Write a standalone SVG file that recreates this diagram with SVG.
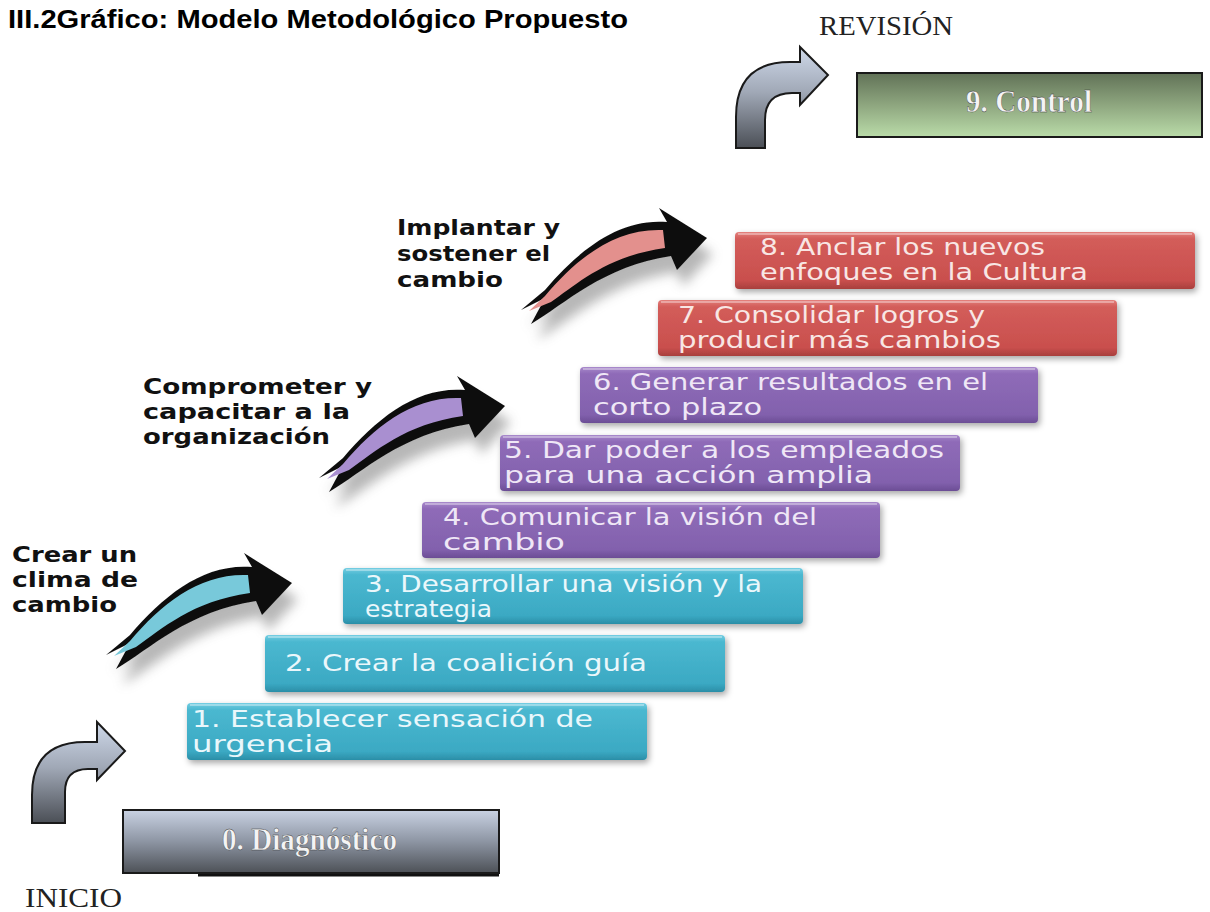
<svg xmlns="http://www.w3.org/2000/svg" width="1210" height="912" viewBox="0 0 1210 912">
<defs>
<linearGradient id="gTeal" x1="0" y1="0" x2="0" y2="1"><stop offset="0" stop-color="#74cde2"/><stop offset="0.12" stop-color="#4bb8d0"/><stop offset="0.85" stop-color="#3ba9c3"/><stop offset="1" stop-color="#2b8ea7"/></linearGradient>
<linearGradient id="gPurple" x1="0" y1="0" x2="0" y2="1"><stop offset="0" stop-color="#a889cb"/><stop offset="0.12" stop-color="#8f6bb8"/><stop offset="0.85" stop-color="#8261ad"/><stop offset="1" stop-color="#6b4d95"/></linearGradient>
<linearGradient id="gRed" x1="0" y1="0" x2="0" y2="1"><stop offset="0" stop-color="#e3807c"/><stop offset="0.12" stop-color="#d35d5a"/><stop offset="0.85" stop-color="#c94f4d"/><stop offset="1" stop-color="#a83f3d"/></linearGradient>
<linearGradient id="gGreen" x1="0" y1="0" x2="0" y2="1"><stop offset="0" stop-color="#617257"/><stop offset="0.5" stop-color="#8ea67f"/><stop offset="1" stop-color="#badca9"/></linearGradient>
<linearGradient id="gGray" x1="0" y1="0" x2="0" y2="1"><stop offset="0" stop-color="#c9d2e3"/><stop offset="0.5" stop-color="#8d95a3"/><stop offset="1" stop-color="#4d5157"/></linearGradient>
<linearGradient id="gBent" x1="0" y1="0" x2="0" y2="1"><stop offset="0" stop-color="#cfd9ea"/><stop offset="0.45" stop-color="#a0a8b6"/><stop offset="1" stop-color="#4b4f56"/></linearGradient>
<filter id="shadow" x="-10%" y="-30%" width="120%" height="170%"><feDropShadow dx="2" dy="3" stdDeviation="3" flood-color="#000" flood-opacity="0.35"/></filter>
<filter id="blur" x="-30%" y="-30%" width="160%" height="160%"><feGaussianBlur stdDeviation="6"/></filter>
<filter id="soft" x="-10%" y="-10%" width="120%" height="120%"><feGaussianBlur stdDeviation="0.7"/></filter>
<g id="brush">
<path d="M 6 16 L -42 -14 L -34 0 C -82 -4 -122 28 -156 68 L -180 88 L -156 76 L -170 102 C -136 82 -98 44 -30 34 L -24 48 Z" fill="#6f6f6f" opacity="0.5" filter="url(#blur)"/>
<path d="M 0 0 L -48 -30 L -40 -16 C -88 -20 -128 12 -162 52 L -186 72 L -162 60 L -176 86 C -142 66 -104 28 -36 18 L -30 32 Z" fill="#111" filter="url(#soft)"/>
</g>
<path id="feather" d="M -44 -8 C -92 -10 -130 20 -162 58 L -178 73 L -156 64 C -130 46 -100 18 -42 10 Z"/>
</defs>
<style>
.step text{font-family:"DejaVu Sans","Liberation Sans",sans-serif;font-size:23px;}
.teal text{fill:#eaf7fb;}
.purple text{fill:#efe7f6;}
.red text{fill:#f8e6e4;}
.head{font-family:"DejaVu Sans","Liberation Sans",sans-serif;font-weight:bold;font-size:21px;fill:#111;}
.serif{font-family:"Liberation Serif","Times New Roman",serif;}
.bent{fill:url(#gBent);stroke:#1a1a1a;stroke-width:2;}
.bevelTop{stroke:#ffffff;stroke-opacity:0.35;stroke-width:2;fill:none;}
</style>
<rect width="1210" height="912" fill="#ffffff"/>

<text x="8" y="28" font-family="Liberation Sans, Arial, sans-serif" font-weight="bold" font-size="25" fill="#000" textLength="620" lengthAdjust="spacingAndGlyphs">III.2Gráfico: Modelo Metodológico Propuesto</text>

<g id="label-revision"><text class="serif" x="819" y="35" font-size="28" fill="#222" textLength="134" lengthAdjust="spacingAndGlyphs">REVISIÓN</text></g>
<g id="label-inicio"><text class="serif" x="25" y="907" font-size="28" fill="#222" textLength="97" lengthAdjust="spacingAndGlyphs">INICIO</text></g>

<g id="headers">
<text class="head" x="397" y="235" textLength="163" lengthAdjust="spacingAndGlyphs">Implantar y</text>
<text class="head" x="397" y="261" textLength="153" lengthAdjust="spacingAndGlyphs">sostener el</text>
<text class="head" x="397" y="287" textLength="106" lengthAdjust="spacingAndGlyphs">cambio</text>
<text class="head" x="143" y="394" textLength="229" lengthAdjust="spacingAndGlyphs">Comprometer y</text>
<text class="head" x="143" y="419" textLength="207" lengthAdjust="spacingAndGlyphs">capacitar a la</text>
<text class="head" x="143" y="444" textLength="187" lengthAdjust="spacingAndGlyphs">organización</text>
<text class="head" x="12" y="562" textLength="125" lengthAdjust="spacingAndGlyphs">Crear un</text>
<text class="head" x="12" y="587" textLength="126" lengthAdjust="spacingAndGlyphs">clima de</text>
<text class="head" x="12" y="612" textLength="105" lengthAdjust="spacingAndGlyphs">cambio</text>
</g>

<g id="connectors">
<g transform="translate(707,238)"><use href="#brush"/><use href="#feather" fill="#e3908d"/></g>
<g transform="translate(505,406)"><use href="#brush"/><use href="#feather" fill="#a98fd0"/></g>
<g transform="translate(292,583)"><use href="#brush"/><use href="#feather" fill="#78c9da"/></g>
<path class="bent" d="M 32 823 L 32 795 Q 32 742 85 742 L 97 742 L 97 722 L 125 751 L 97 780 L 97 769 L 88 769 Q 65 769 65 792 L 65 823 Z"/>
<path class="bent" d="M 736 148 L 736 117 Q 736 62 790 62 L 800 62 L 800 47 L 828 75 L 800 105 L 800 93 L 792 93 Q 765 93 765 120 L 765 148 Z"/>
</g>

<g id="node-0">
<line x1="198" y1="875" x2="499" y2="875" stroke="#111" stroke-width="3"/>
<rect x="123" y="810" width="376" height="63" fill="url(#gGray)" stroke="#1a1a1a" stroke-width="2"/>
<text class="serif" x="222" y="850" font-size="32" font-weight="bold" fill="#f4f4f4" stroke="#333" stroke-width="0.4" textLength="175" lengthAdjust="spacingAndGlyphs">0. Diagnóstico</text>
</g>

<g id="node-9">
<rect x="857" y="73" width="345" height="64" fill="url(#gGreen)" stroke="#1a1a1a" stroke-width="2"/>
<text class="serif" x="966" y="112" font-size="32" font-weight="bold" fill="#f4f4f4" stroke="#333" stroke-width="0.4" textLength="126" lengthAdjust="spacingAndGlyphs">9. Control</text>
</g>

<g id="node-1" class="step teal">
<rect x="187" y="703" width="460" height="57" rx="4" fill="url(#gTeal)" filter="url(#shadow)"/>
<path class="bevelTop" d="M 190 705 L 644 705"/>
<text x="192" y="727" textLength="401" lengthAdjust="spacingAndGlyphs">1. Establecer sensación de</text>
<text x="192" y="752" textLength="141" lengthAdjust="spacingAndGlyphs">urgencia</text>
</g>
<g id="node-2" class="step teal">
<rect x="265" y="635" width="460" height="57" rx="4" fill="url(#gTeal)" filter="url(#shadow)"/>
<path class="bevelTop" d="M 268 637 L 722 637"/>
<text x="285" y="671" textLength="362" lengthAdjust="spacingAndGlyphs">2. Crear la coalición guía</text>
</g>
<g id="node-3" class="step teal">
<rect x="343" y="568" width="460" height="56" rx="4" fill="url(#gTeal)" filter="url(#shadow)"/>
<path class="bevelTop" d="M 346 570 L 800 570"/>
<text x="365" y="592" textLength="397" lengthAdjust="spacingAndGlyphs">3. Desarrollar una visión y la</text>
<text x="365" y="617" textLength="127" lengthAdjust="spacingAndGlyphs">estrategia</text>
</g>
<g id="node-4" class="step purple">
<rect x="422" y="502" width="458" height="56" rx="4" fill="url(#gPurple)" filter="url(#shadow)"/>
<path class="bevelTop" d="M 425 504 L 877 504"/>
<text x="443" y="525" textLength="374" lengthAdjust="spacingAndGlyphs">4. Comunicar la visión del</text>
<text x="443" y="550" textLength="122" lengthAdjust="spacingAndGlyphs">cambio</text>
</g>
<g id="node-5" class="step purple">
<rect x="500" y="435" width="460" height="56" rx="4" fill="url(#gPurple)" filter="url(#shadow)"/>
<path class="bevelTop" d="M 503 437 L 957 437"/>
<text x="504" y="458" textLength="440" lengthAdjust="spacingAndGlyphs">5. Dar poder a los empleados</text>
<text x="504" y="483" textLength="369" lengthAdjust="spacingAndGlyphs">para una acción amplia</text>
</g>
<g id="node-6" class="step purple">
<rect x="580" y="367" width="458" height="56" rx="4" fill="url(#gPurple)" filter="url(#shadow)"/>
<path class="bevelTop" d="M 583 369 L 1035 369"/>
<text x="593" y="390" textLength="395" lengthAdjust="spacingAndGlyphs">6. Generar resultados en el</text>
<text x="593" y="415" textLength="169" lengthAdjust="spacingAndGlyphs">corto plazo</text>
</g>
<g id="node-7" class="step red">
<rect x="658" y="300" width="459" height="56" rx="4" fill="url(#gRed)" filter="url(#shadow)"/>
<path class="bevelTop" d="M 661 302 L 1114 302"/>
<text x="678" y="323" textLength="307" lengthAdjust="spacingAndGlyphs">7. Consolidar logros y</text>
<text x="678" y="348" textLength="323" lengthAdjust="spacingAndGlyphs">producir más cambios</text>
</g>
<g id="node-8" class="step red">
<rect x="735" y="232" width="460" height="57" rx="4" fill="url(#gRed)" filter="url(#shadow)"/>
<path class="bevelTop" d="M 738 234 L 1192 234"/>
<text x="760" y="255" textLength="285" lengthAdjust="spacingAndGlyphs">8. Anclar los nuevos</text>
<text x="760" y="280" textLength="328" lengthAdjust="spacingAndGlyphs">enfoques en la Cultura</text>
</g>
</svg>
